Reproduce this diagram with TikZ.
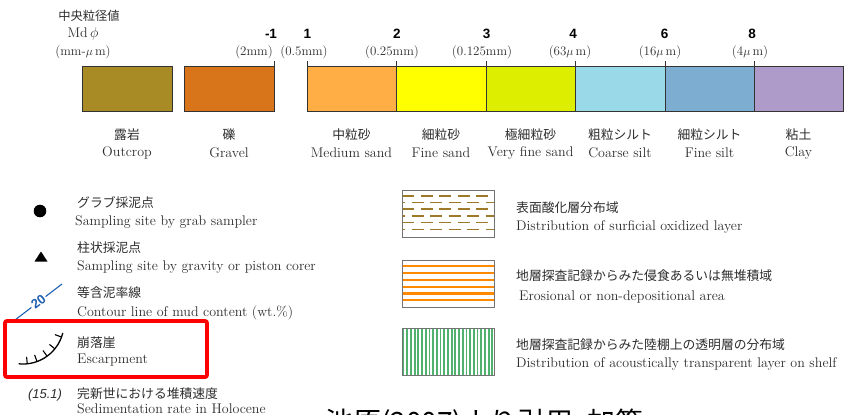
\documentclass[tikz,border=0pt]{standalone}
\usepackage{fontspec}
\newfontfamily\jp{Noto Sans CJK JP}
\newfontfamily\arial{Liberation Sans}
\definecolor{txt}{RGB}{45,45,45}
\definecolor{cOut}{RGB}{168,139,37}
\definecolor{cGra}{RGB}{216,117,26}
\definecolor{cMed}{RGB}{255,173,69}
\definecolor{cFin}{RGB}{255,255,0}
\definecolor{cVfn}{RGB}{221,238,0}
\definecolor{cCsl}{RGB}{154,218,232}
\definecolor{cFsl}{RGB}{125,173,208}
\definecolor{cCla}{RGB}{174,155,201}
\definecolor{cBrown}{RGB}{156,122,42}
\definecolor{cOrange}{RGB}{255,138,0}
\definecolor{cGreen}{RGB}{80,178,110}
\definecolor{cBlue}{RGB}{30,95,176}
\tikzset{
  cbox/.style={draw=black!80, line width=0.8pt, inner sep=0pt, outer sep=0pt, minimum height=45pt},
  en/.style={font=\fontsize{14}{16}\selectfont, text=txt, inner sep=0pt},
  ja/.style={font=\jp\fontsize{12.8}{14}\selectfont, text=txt, inner sep=0pt},
  num/.style={font=\arial\bfseries\fontsize{13.5}{15}\selectfont, inner sep=0pt},
  mmlab/.style={font=\fontsize{13}{15}\selectfont, text=txt, inner sep=0pt},
  lbox/.style={draw=black!55, line width=0.9pt, inner sep=0pt, outer sep=0pt, minimum width=92pt, minimum height=47pt},
}
\begin{document}
\begin{tikzpicture}[x=1pt,y=-1pt]
\useasboundingbox (0,0) rectangle (844,415);
% header
\node[ja, font=\jp\fontsize{12.3}{14}\selectfont] (hdr) at (89,16) {中央粒径値};
\node[en] (md) at (83,34) {Md$\,\phi$};
\node[mmlab] (unit) at (83,52) {(mm-$\mu$\,m)};
% colour bar
\node[cbox, fill=cOut, minimum width=90pt] (b1) at (127,88.5) {};
\node[cbox, fill=cGra, minimum width=90pt] (b2) at (229,88.5) {};
\node[cbox, fill=cMed, minimum width=89pt] (b3) at (351.5,88.5) {};
\node[cbox, fill=cFin, minimum width=90pt] (b4) at (441,88.5) {};
\node[cbox, fill=cVfn, minimum width=89pt] (b5) at (530.5,88.5) {};
\node[cbox, fill=cCsl, minimum width=90pt] (b6) at (620,88.5) {};
\node[cbox, fill=cFsl, minimum width=89pt] (b7) at (709.5,88.5) {};
\node[cbox, fill=cCla, minimum width=89pt] (b8) at (798.5,88.5) {};
% ticks
\foreach \n in {b2,b3,b4,b5,b6,b7}{
  \draw[black!80, line width=0.8pt] (\n.north east) -- ++(0,-5);
}
\draw[black!80, line width=0.8pt] (b3.north west) -- ++(0,-5);
% numbers
\node[num] (n1) at (271,34) {-1};
\node[num] (n2) at (307.5,34) {1};
\node[num] (n3) at (397,34) {2};
\node[num] (n4) at (486.5,34) {3};
\node[num] (n5) at (573,34) {4};
\node[num] (n6) at (664.5,34) {6};
\node[num] (n7) at (752,34) {8};
% mm labels
\node[mmlab] (m1) at (254,52) {(2mm)};
\node[mmlab] (m2) at (304,52) {(0.5mm)};
\node[mmlab] (m3) at (392,52) {(0.25mm)};
\node[mmlab] (m4) at (482,52) {(0.125mm)};
\node[mmlab] (m5) at (570,52) {(63$\mu$\,m)};
\node[mmlab] (m6) at (660,52) {(16$\mu$\,m)};
\node[mmlab] (m7) at (750,52) {(4$\mu$\,m)};
% bar labels
\node[ja] (j1) at (127,135) {露岩};
\node[en] (e1) at (127,153) {Outcrop};
\node[ja] (j2) at (229,135) {礫};
\node[en] (e2) at (229,153) {Gravel};
\node[ja] (j3) at (351.5,135) {中粒砂};
\node[en] (e3) at (351.5,153) {Medium sand};
\node[ja] (j4) at (441,135) {細粒砂};
\node[en] (e4) at (441,153) {Fine sand};
\node[ja] (j5) at (530.5,135) {極細粒砂};
\node[en] (e5) at (530.5,153) {Very fine sand};
\node[ja] (j6) at (620,135) {粗粒シルト};
\node[en] (e6) at (620,153) {Coarse silt};
\node[ja] (j7) at (709.5,135) {細粒シルト};
\node[en] (e7) at (709.5,153) {Fine silt};
\node[ja] (j8) at (798.5,135) {粘土};
\node[en] (e8) at (798.5,153) {Clay};
% left legend
\fill[black] (40,211) circle (6.3pt);
\node[ja, anchor=west] (g1j) at (77,203) {グラブ採泥点};
\node[en, anchor=west] (g1e) at (75,222) {Sampling site by grab sampler};
\fill[black] (41,251.5) -- (47.5,261.5) -- (34.5,261.5) -- cycle;
\node[ja, anchor=west] (g2j) at (77,248) {柱状採泥点};
\node[en, anchor=west] (g2e) at (77,267) {Sampling site by gravity or piston corer};
\coordinate (c1) at (15,320);
\coordinate (c2) at (62,284);
\node[font=\arial\bfseries\fontsize{13}{15}\selectfont, text=cBlue, rotate=37.5, inner sep=1.5pt] (c20) at (38.5,302) {20};
\draw[cBlue, line width=1.1pt] (c1) -- (c20) -- (c2);
\node[ja, anchor=west] (g3j) at (77,293) {等含泥率線};
\node[en, anchor=west] (g3e) at (77,313) {Contour line of mud content (wt.\%)};
% escarpment
\begin{scope}[shift={(23,323)}]
\draw[black, line width=1.3pt] plot[domain=14:96, samples=40] (\x:41);
\foreach \a in {84,70,54,39,20}{
  \draw[black, line width=1.1pt] (\a:41) -- (\a:34);
}
\end{scope}
\node[ja, anchor=west] (g4j) at (77,343) {崩落崖};
\node[en, anchor=west] (g4e) at (77,360) {Escarpment};
\draw[red, line width=3.8pt, rounded corners=2pt] (5,321) rectangle (207,377);
\node[font=\arial\itshape\fontsize{13}{15}\selectfont, text=txt, inner sep=0pt] (rate) at (45,395) {(15.1)};
\node[ja, anchor=west] (g5j) at (77,394) {完新世における堆積速度};
\node[en, anchor=west] (g5e) at (77,409) {Sedimentation rate in Holocene};
% right legend boxes
\node[lbox] (r1) at (448,213.5) {};
\begin{scope}
\clip (r1.south west) rectangle (r1.north east);
\foreach \yy/\ph in {196/0,202.5/9,209/0,215.7/9,222.5/0,229.5/9}{
  \draw[cBrown, line width=1.6pt, dash pattern=on 12pt off 6.5pt, dash phase=\ph pt] (402,\yy) -- (496,\yy);
}
\end{scope}
\node[lbox] (r1b) at (448,213.5) {};
\node[ja, anchor=west] (r1j) at (516,208) {表面酸化層分布域};
\node[en, anchor=west] (r1e) at (516,227) {Distribution of surficial oxidized layer};
\node[lbox] (r2) at (448,284) {};
\begin{scope}
\clip (r2.south west) rectangle (r2.north east);
\foreach \yy in {266,273,280,287,293.5,300}{
  \draw[cOrange, line width=2.6pt] (400,\yy) -- (496,\yy);
}
\end{scope}
\node[lbox] (r2b) at (448,284) {};
\node[ja, anchor=west] (r2j) at (516,276) {地層探査記録からみた侵食あるいは無堆積域};
\node[en, anchor=west] (r2e) at (519,297) {Erosional or non-depositional area};
\node[lbox] (r3) at (448,352) {};
\begin{scope}
\clip (r3.south west) rectangle (r3.north east);
\foreach \i in {0,...,24}{
  \draw[cGreen, line width=1.8pt] (403.5+3.7*\i,326) -- (403.5+3.7*\i,378);
}
\end{scope}
\node[lbox] (r3b) at (448,352) {};
\node[ja, anchor=west] (r3j) at (516,345) {地層探査記録からみた陸棚上の透明層の分布域};
\node[en, anchor=west] (r3e) at (516,364) {Distribution of acoustically transparent layer on shelf};
% source note (cut at the bottom edge, as in the reference)
\node[font=\jp\fontsize{28}{30}\selectfont, anchor=base west, inner sep=0pt] (src) at (325,432) {池原(2007)より引用, 加筆};
\end{tikzpicture}
\end{document}
